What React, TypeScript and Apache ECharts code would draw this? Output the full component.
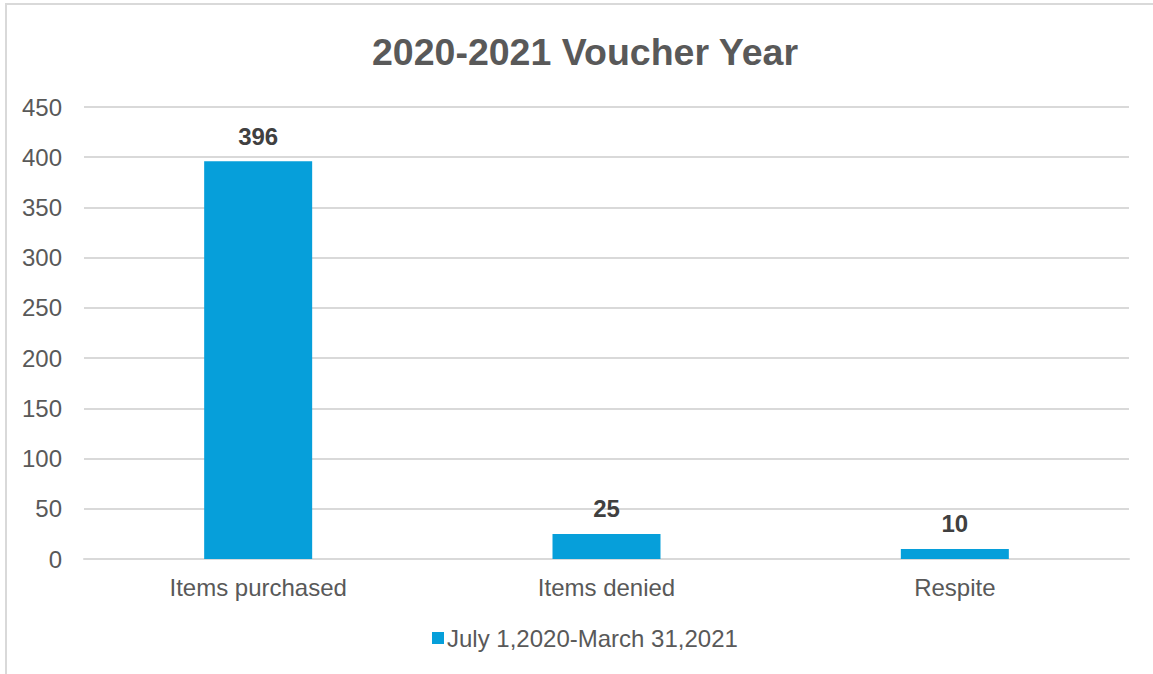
import React, { useEffect, useRef } from "react";
import * as echarts from "echarts";

const categories = ["Items purchased", "Items denied", "Respite"];
const seriesName = "July 1,2020-March 31,2021";
const values = [396, 25, 10];
const titleText = "2020-2021 Voucher Year";

export default function App() {
  const ref = useRef<HTMLDivElement>(null);
  useEffect(() => {
    if (!ref.current) return;
    const chart = echarts.init(ref.current, null, { renderer: "svg" });
    const font = "Arial, 'Liberation Sans', sans-serif";
    chart.setOption({
      animation: false,
      backgroundColor: "#ffffff",
      textStyle: { fontFamily: font },
      title: {
        text: titleText,
        left: 580,
        textAlign: "center",
        top: 28,
        textStyle: { fontSize: 37.5, fontWeight: "bold", color: "#595959", fontFamily: font },
      },
      graphic: [
        {
          type: "rect",
          shape: { x: 6, y: 4, width: 1200, height: 720 },
          style: { fill: "none", stroke: "#d9d9d9", lineWidth: 2 },
          silent: true,
        },
      ],
      legend: {
        data: [seriesName],
        left: 427,
        top: 621,
        itemWidth: 12,
        itemHeight: 12,
        itemGap: 10,
        icon: "rect",
        textStyle: { fontSize: 24, color: "#595959", fontFamily: font, padding: [0, 0, 0, -2] },
      },
      grid: { left: 84, right: 24, top: 107, bottom: 115, containLabel: false },
      xAxis: {
        type: "category",
        data: categories,
        axisLine: { lineStyle: { color: "#d9d9d9", width: 2 } },
        axisTick: { show: false },
        axisLabel: { fontSize: 24, color: "#595959", margin: 16, fontFamily: font },
      },
      yAxis: {
        type: "value",
        min: 0,
        max: 450,
        interval: 50,
        axisLine: { show: false },
        axisTick: { show: false },
        splitLine: { lineStyle: { color: "#d9d9d9", width: 2 } },
        axisLabel: { fontSize: 24, color: "#595959", margin: 22, fontFamily: font },
      },
      series: [
        {
          name: seriesName,
          type: "bar",
          data: values,
          barWidth: 108,
          itemStyle: { color: "#069FDA" },
          label: {
            show: true,
            position: "top",
            distance: 13,
            fontSize: 24,
            fontWeight: "bold",
            color: "#404040",
            fontFamily: font,
          },
        },
      ],
    });
    return () => chart.dispose();
  }, []);
  return (
    <div
      ref={ref}
      style={{ position: "fixed", left: 0, top: 0, width: 1153, height: 674 }}
    />
  );
}
